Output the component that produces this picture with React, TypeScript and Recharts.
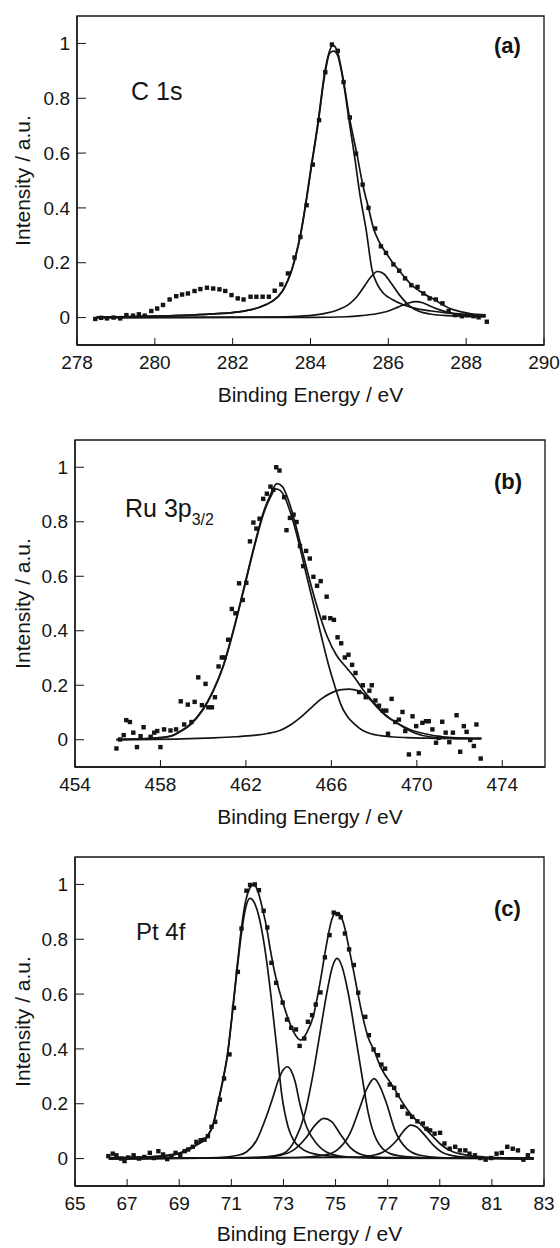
import React from "react";
import { ComposedChart, Line, Scatter, XAxis, YAxis, ReferenceArea } from "recharts";

type Pt = [number, number];

const INK = "#141414";
const FONT = "'Liberation Sans', Arial, Helvetica, sans-serif";

const yTicks = [0, 0.2, 0.4, 0.6, 0.8, 1];

// (a) C 1s
const aTicksX = [278, 280, 282, 284, 286, 288, 290];
const aPoints: Pt[] = [
  [278.47, -0.005], [278.62, -0.001], [278.77, -0.003], [278.94, 0], [279.11, -0.003],
  [279.27, 0.009], [279.44, 0.007], [279.59, 0.012], [279.74, 0.007], [279.91, 0.024],
  [280.06, 0.033], [280.21, 0.046], [280.38, 0.066], [280.55, 0.078], [280.7, 0.084],
  [280.85, 0.088], [281.02, 0.097], [281.17, 0.104], [281.34, 0.109], [281.5, 0.106],
  [281.66, 0.103], [281.81, 0.097], [281.97, 0.082], [282.13, 0.07], [282.28, 0.066],
  [282.46, 0.076], [282.61, 0.076], [282.77, 0.076], [282.93, 0.076], [283.08, 0.098],
  [283.25, 0.121], [283.42, 0.161], [283.59, 0.219], [283.74, 0.294], [283.9, 0.41],
  [284.06, 0.558], [284.22, 0.72], [284.38, 0.895], [284.55, 0.996], [284.7, 0.973],
  [284.85, 0.859], [285.01, 0.73], [285.17, 0.598], [285.34, 0.485], [285.49, 0.4],
  [285.66, 0.325], [285.81, 0.26], [285.94, 0.236], [286.13, 0.194], [286.28, 0.171],
  [286.43, 0.143], [286.59, 0.118], [286.75, 0.112], [286.9, 0.088], [287.06, 0.07],
  [287.22, 0.066], [287.39, 0.052], [287.55, 0.024], [287.72, 0.009], [287.89, 0.005],
  [288.03, 0.009], [288.19, 0.005], [288.32, 0.001], [288.53, -0.015],
];
const aFit: Pt[] = [
  [278.5, 0.002], [279.5, 0.004], [280.5, 0.007], [281.3, 0.012], [282.16, 0.021],
  [282.67, 0.037], [283.0, 0.058], [283.27, 0.095], [283.53, 0.18], [283.75, 0.31],
  [284.03, 0.562], [284.2, 0.72], [284.36, 0.89], [284.48, 0.968], [284.57, 0.993],
  [284.68, 0.975], [284.85, 0.862], [285.0, 0.73], [285.19, 0.598], [285.35, 0.48],
  [285.49, 0.4], [285.62, 0.325], [285.78, 0.272], [285.94, 0.236], [286.1, 0.203],
  [286.28, 0.171], [286.45, 0.142], [286.59, 0.12], [286.75, 0.102], [286.9, 0.088],
  [287.2, 0.064], [287.42, 0.045], [287.6, 0.032], [287.85, 0.022], [288.1, 0.015],
  [288.5, 0.01],
];
const aPeak1: Pt[] = [
  [278.5, 0.002], [279.5, 0.004], [280.5, 0.007], [281.3, 0.012], [282.16, 0.021],
  [282.67, 0.037], [283.0, 0.058], [283.27, 0.094], [283.53, 0.178], [283.75, 0.305],
  [284.03, 0.555], [284.2, 0.712], [284.36, 0.88], [284.5, 0.966], [284.6, 0.972],
  [284.7, 0.955], [284.85, 0.855], [285.0, 0.71], [285.12, 0.6], [285.28, 0.44],
  [285.43, 0.32], [285.58, 0.175], [285.72, 0.12], [285.88, 0.088], [286.1, 0.066],
  [286.4, 0.046], [286.75, 0.032], [287.1, 0.024], [287.5, 0.017], [288.0, 0.012],
  [288.5, 0.009],
];
const aPeak2: Pt[] = [
  [278.5, 0], [282.5, 0.002], [283.5, 0.004], [284.08, 0.009], [284.4, 0.016],
  [284.68, 0.027], [285.0, 0.05], [285.19, 0.076], [285.4, 0.118], [285.55, 0.148],
  [285.72, 0.168], [285.88, 0.16], [286.05, 0.13], [286.3, 0.08], [286.55, 0.042],
  [286.8, 0.022], [287.07, 0.013], [287.5, 0.007], [288.5, 0.003],
];
const aPeak3: Pt[] = [
  [278.5, 0], [284.0, 0.001], [284.93, 0.003], [285.3, 0.007], [285.7, 0.014],
  [286.0, 0.024], [286.26, 0.039], [286.5, 0.052], [286.7, 0.058], [286.9, 0.053],
  [287.07, 0.042], [287.3, 0.029], [287.5, 0.02], [287.93, 0.009], [288.5, 0.003],
];

// (b) Ru 3p3/2
const bTicksX = [454, 458, 462, 466, 470, 474];
const bPoints: Pt[] = [
  [455.94, -0.032], [456.11, 0.001], [456.28, 0.017], [456.4, 0.072], [456.57, 0.065],
  [456.73, 0.026], [456.9, -0.027], [457.07, 0.013], [457.21, 0.046], [457.54, 0.011],
  [457.71, 0.026], [457.85, 0.032], [458.0, -0.027], [458.17, 0.038], [458.47, 0.034],
  [458.73, 0.038], [458.95, 0.141], [459.11, 0.056], [459.28, 0.129], [459.45, 0.065],
  [459.6, 0.139], [459.77, 0.229], [459.94, 0.127], [460.11, 0.205], [460.24, 0.119],
  [460.41, 0.119], [460.55, 0.156], [460.72, 0.269], [460.87, 0.302], [461.0, 0.302],
  [461.17, 0.367], [461.34, 0.48], [461.51, 0.464], [461.68, 0.574], [461.85, 0.513],
  [462.02, 0.576], [462.19, 0.728], [462.35, 0.797], [462.49, 0.775], [462.64, 0.811],
  [462.81, 0.884], [462.98, 0.903], [463.15, 0.929], [463.28, 0.917], [463.42, 1.0],
  [463.57, 0.988], [463.79, 0.89], [463.9, 0.769], [464.06, 0.814], [464.23, 0.826],
  [464.37, 0.799], [464.53, 0.711], [464.68, 0.637], [464.82, 0.693], [464.99, 0.665],
  [465.16, 0.598], [465.33, 0.565], [465.5, 0.582], [465.67, 0.448], [465.78, 0.525],
  [465.95, 0.446], [466.12, 0.44], [466.29, 0.376], [466.46, 0.354], [466.63, 0.302],
  [466.8, 0.312], [466.97, 0.275], [467.13, 0.245], [467.3, 0.175], [467.47, 0.2],
  [467.61, 0.156], [467.78, 0.18], [467.89, 0.2], [468.06, 0.144], [468.23, 0.125],
  [468.4, 0.107], [468.57, 0.107], [468.65, 0.022], [468.82, 0.15], [468.99, 0.065],
  [469.16, 0.074], [469.33, 0.102], [469.46, 0.032], [469.63, -0.054], [469.8, 0.086],
  [469.97, 0.05], [470.09, -0.05], [470.26, 0.062], [470.43, 0.068], [470.56, 0.068],
  [470.73, 0.038], [470.9, -0.011], [471.02, 0.007], [471.19, 0.066], [471.35, 0.026],
  [471.52, -0.009], [471.69, 0.026], [471.86, 0.09], [472.03, -0.044], [472.2, 0.05],
  [472.33, 0.029], [472.5, -0.001], [472.67, -0.023], [472.79, 0.056], [472.99, -0.069],
];
const bFit: Pt[] = [
  [455.94, 0.001], [457.0, 0.003], [458.0, 0.008], [458.5, 0.014], [458.9, 0.03],
  [459.4, 0.057], [459.95, 0.108], [460.45, 0.178], [460.93, 0.27], [461.42, 0.405],
  [461.9, 0.555], [462.4, 0.715], [462.85, 0.842], [463.15, 0.9], [463.45, 0.94],
  [463.7, 0.93], [464.13, 0.845], [464.55, 0.72], [464.97, 0.59], [465.33, 0.489],
  [465.8, 0.38], [466.24, 0.31], [466.7, 0.265], [467.05, 0.232], [467.5, 0.182],
  [468.0, 0.135], [468.52, 0.092], [469.02, 0.063], [469.7, 0.037], [470.37, 0.022],
  [471.22, 0.011], [472.0, 0.007], [473.02, 0.005],
];
const bPeak1: Pt[] = [
  [455.94, 0.001], [457.0, 0.003], [458.0, 0.008], [458.5, 0.013], [458.9, 0.028],
  [459.4, 0.055], [459.95, 0.105], [460.45, 0.175], [460.93, 0.267], [461.42, 0.4],
  [461.9, 0.55], [462.4, 0.71], [462.85, 0.835], [463.15, 0.89], [463.38, 0.921],
  [463.6, 0.915], [463.79, 0.895], [464.1, 0.83], [464.47, 0.725], [464.8, 0.615],
  [465.16, 0.5], [465.5, 0.39], [465.85, 0.28], [466.15, 0.2], [466.44, 0.13],
  [466.75, 0.085], [467.07, 0.058], [467.45, 0.035], [467.85, 0.022], [468.3, 0.015],
  [468.8, 0.011], [469.5, 0.008], [470.5, 0.006], [473.02, 0.004],
];
const bPeak2: Pt[] = [
  [455.94, 0], [459.0, 0.003], [460.5, 0.007], [461.5, 0.011], [462.36, 0.016],
  [463.0, 0.023], [463.62, 0.035], [464.1, 0.055], [464.56, 0.082], [465.0, 0.113],
  [465.5, 0.148], [466.0, 0.172], [466.4, 0.183], [466.85, 0.186], [467.38, 0.175],
  [467.8, 0.148], [468.17, 0.117], [468.6, 0.085], [469.11, 0.06], [469.5, 0.04],
  [469.89, 0.025], [470.67, 0.01], [471.5, 0.006], [473.02, 0.004],
];

// (c) Pt 4f
const cTicksX = [65, 67, 69, 71, 73, 75, 77, 79, 81, 83];
const cPoints: Pt[] = [
  [66.28, 0.009], [66.45, 0.018], [66.59, 0.012], [66.77, 0], [66.9, -0.009],
  [67.04, 0.004], [67.25, 0.012], [67.46, 0], [67.66, 0.006], [67.87, 0.021],
  [68.03, 0.002], [68.2, 0.027], [68.38, 0.015], [68.54, -0.002], [68.7, 0.009],
  [68.86, 0.021], [69.04, 0.012], [69.21, 0.027], [69.34, 0.033], [69.52, 0.043],
  [69.66, 0.061], [69.83, 0.067], [69.97, 0.069], [70.1, 0.082], [70.24, 0.116],
  [70.38, 0.134], [70.56, 0.215], [70.72, 0.292], [70.93, 0.38], [71.1, 0.55],
  [71.25, 0.681], [71.39, 0.839], [71.58, 0.977], [71.72, 0.998], [71.9, 1.0],
  [72.06, 0.979], [72.24, 0.904], [72.38, 0.843], [72.54, 0.714], [72.72, 0.641],
  [72.97, 0.569], [73.14, 0.507], [73.3, 0.477], [73.48, 0.471], [73.62, 0.411],
  [73.8, 0.438], [73.94, 0.499], [74.1, 0.523], [74.24, 0.562], [74.42, 0.606],
  [74.59, 0.734], [74.77, 0.815], [74.93, 0.897], [75.08, 0.892], [75.2, 0.88],
  [75.36, 0.821], [75.52, 0.763], [75.7, 0.706], [75.87, 0.605], [76.14, 0.517],
  [76.28, 0.45], [76.46, 0.398], [76.63, 0.377], [76.76, 0.343], [76.9, 0.328],
  [77.08, 0.27], [77.25, 0.258], [77.38, 0.231], [77.56, 0.189], [77.77, 0.164],
  [77.94, 0.152], [78.14, 0.136], [78.35, 0.128], [78.49, 0.109], [78.63, 0.103],
  [78.8, 0.091], [79.01, 0.094], [79.18, 0.055], [79.38, 0.036], [79.59, 0.043],
  [79.77, 0.03], [79.98, 0.03], [80.14, 0.018], [80.35, 0.012], [80.56, 0.002],
  [80.76, -0.004], [80.97, 0.002], [81.18, 0.018], [81.38, 0.021], [81.59, 0.043],
  [81.8, 0.036], [82.0, 0.03], [82.21, -0.004], [82.38, 0.012], [82.56, 0.027],
];
const cFit: Pt[] = [
  [66.3, 0.003], [67.0, 0.004], [68.0, 0.007], [68.5, 0.012], [69.0, 0.02],
  [69.3, 0.034], [69.6, 0.048], [69.92, 0.066], [70.1, 0.085], [70.3, 0.125],
  [70.5, 0.21], [70.7, 0.3], [70.85, 0.38], [71.0, 0.5], [71.2, 0.68],
  [71.4, 0.85], [71.55, 0.94], [71.7, 0.985], [71.85, 1.0], [72.0, 0.98],
  [72.2, 0.91], [72.35, 0.845], [72.5, 0.76], [72.65, 0.685], [72.8, 0.626],
  [73.0, 0.562], [73.2, 0.505], [73.4, 0.46], [73.66, 0.432], [73.9, 0.46],
  [74.14, 0.517], [74.4, 0.639], [74.66, 0.785], [74.85, 0.87], [75.0, 0.895],
  [75.15, 0.892], [75.3, 0.86], [75.5, 0.775], [75.66, 0.7], [75.81, 0.625],
  [76.0, 0.535], [76.26, 0.44], [76.5, 0.39], [76.71, 0.338], [76.9, 0.305],
  [77.1, 0.278], [77.3, 0.248], [77.5, 0.215], [77.73, 0.182], [77.95, 0.155],
  [78.24, 0.128], [78.5, 0.103], [78.75, 0.079], [79.0, 0.055], [79.27, 0.036],
  [79.5, 0.025], [79.78, 0.017], [80.1, 0.011], [80.6, 0.006], [81.5, 0.003],
  [82.6, 0.002],
];
const cPeak1: Pt[] = [
  [66.3, 0.003], [68.0, 0.006], [69.0, 0.018], [69.6, 0.045], [70.1, 0.084],
  [70.3, 0.122], [70.5, 0.205], [70.7, 0.295], [70.85, 0.375], [71.0, 0.495],
  [71.2, 0.67], [71.4, 0.83], [71.55, 0.915], [71.72, 0.949], [71.9, 0.93],
  [72.09, 0.87], [72.35, 0.724], [72.54, 0.578], [72.74, 0.407], [72.93, 0.237],
  [73.18, 0.115], [73.4, 0.065], [73.63, 0.042], [74.14, 0.018], [74.91, 0.008],
  [76.0, 0.004], [82.6, 0.001],
];
const cPeak2: Pt[] = [
  [66.3, 0], [70.5, 0.004], [71.26, 0.012], [71.58, 0.024], [71.97, 0.067],
  [72.35, 0.155], [72.6, 0.225], [72.8, 0.285], [73.0, 0.325], [73.15, 0.335],
  [73.3, 0.32], [73.45, 0.28], [73.63, 0.2], [73.89, 0.115], [74.27, 0.055],
  [74.78, 0.018], [75.43, 0.006], [76.5, 0.002], [82.6, 0],
];
const cPeak3: Pt[] = [
  [66.3, 0], [72.0, 0.004], [72.86, 0.012], [73.37, 0.03], [73.89, 0.079],
  [74.2, 0.12], [74.55, 0.147], [74.85, 0.135], [75.17, 0.091], [75.55, 0.042],
  [76.06, 0.013], [76.8, 0.004], [82.6, 0],
];
const cPeak4: Pt[] = [
  [66.3, 0], [71.5, 0.003], [72.5, 0.008], [72.99, 0.018], [73.44, 0.067],
  [73.82, 0.164], [74.14, 0.31], [74.4, 0.456], [74.66, 0.602], [74.88, 0.7],
  [75.06, 0.73], [75.25, 0.7], [75.49, 0.602], [75.75, 0.456], [76.0, 0.31],
  [76.26, 0.164], [76.58, 0.067], [77.09, 0.018], [77.8, 0.006], [79.0, 0.002],
  [82.6, 0],
];
const cPeak5: Pt[] = [
  [66.3, 0], [73.5, 0.004], [74.53, 0.012], [75.04, 0.03], [75.55, 0.091],
  [75.94, 0.188], [76.2, 0.255], [76.48, 0.292], [76.72, 0.26], [76.96, 0.2],
  [77.28, 0.103], [77.73, 0.036], [78.24, 0.012], [79.0, 0.004], [82.6, 0],
];
const cPeak6: Pt[] = [
  [66.3, 0], [75.5, 0.004], [76.32, 0.01], [76.83, 0.024], [77.35, 0.067],
  [77.65, 0.105], [77.89, 0.122], [78.12, 0.115], [78.37, 0.091], [78.75, 0.049],
  [79.14, 0.02], [79.65, 0.008], [80.5, 0.003], [82.6, 0],
];

const toRows = (pts: Pt[]) => pts.map(([x, y]) => ({ x, y }));

function Square(props: any) {
  const { cx, cy } = props;
  if (cx == null || cy == null) return null;
  return <rect x={cx - 2.2} y={cy - 2.2} width={4.4} height={4.4} fill={INK} />;
}

interface PanelProps {
  top: number;
  height: number;
  left: number;
  right: number;
  plotH: number;
  xDomain: [number, number];
  xTicks: number[];
  points: Pt[];
  curves: Pt[][];
  titleY: number;
  children?: React.ReactNode;
}

function Panel({ top, height, left, right, plotH, xDomain, xTicks, points, curves, titleY, children }: PanelProps) {
  const plotTop = 16;
  const xAxisH = height - plotTop - plotH;
  const cx = (left + right) / 2;
  const cy = plotTop + plotH / 2;
  return (
    <div style={{ position: "absolute", top, left: 0, width: 560, height }}>
      <ComposedChart width={560} height={height} margin={{ top: plotTop, right: 560 - right, bottom: 0, left: 0 }}>
        <XAxis
          type="number"
          dataKey="x"
          domain={xDomain}
          ticks={xTicks}
          interval={0}
          allowDataOverflow
          height={xAxisH}
          tickSize={-7}
          tickMargin={18}
          tick={{ fontSize: 19, fill: INK, fontFamily: FONT }}
          axisLine={{ stroke: INK, strokeWidth: 1.3 }}
          tickLine={{ stroke: INK, strokeWidth: 1 }}
        />
        <YAxis
          type="number"
          domain={[-0.1, 1.1]}
          ticks={yTicks}
          interval={0}
          allowDataOverflow
          width={left}
          tickSize={-9}
          tickMargin={16}
          tick={{ fontSize: 19, fill: INK, fontFamily: FONT }}
          axisLine={{ stroke: INK, strokeWidth: 1.3 }}
          tickLine={{ stroke: INK, strokeWidth: 1 }}
        />
        <ReferenceArea x1={xDomain[0]} x2={xDomain[1]} y1={-0.1} y2={1.1} fill="none" fillOpacity={0} stroke={INK} strokeWidth={1.3} />
        {curves.map((c, i) => (
          <Line
            key={i}
            data={toRows(c)}
            dataKey="y"
            type="monotone"
            dot={false}
            stroke={INK}
            strokeWidth={1.7}
            isAnimationActive={false}
          />
        ))}
        <Scatter data={toRows(points)} dataKey="y" shape={<Square />} isAnimationActive={false} />
        <text x={cx} y={titleY} textAnchor="middle" fontSize={21} fill={INK} fontFamily={FONT}>
          Binding Energy / eV
        </text>
        <text
          x={22}
          y={cy}
          transform={`rotate(-90, 22, ${cy})`}
          textAnchor="middle"
          dominantBaseline="central"
          fontSize={21}
          fill={INK}
          fontFamily={FONT}
        >
          Intensity / a.u.
        </text>
        {children}
      </ComposedChart>
    </div>
  );
}

const label = { fill: INK, fontFamily: FONT };
const tag = { fontSize: 22, fill: INK, fontFamily: FONT, fontWeight: 700 };

export default function App() {
  return (
    <div style={{ position: "absolute", top: 0, left: 0, width: 560, height: 1248, background: "#fff", overflow: "hidden" }}>
      <Panel
        top={0}
        height={416}
        left={77}
        right={544}
        plotH={329}
        xDomain={[278, 290]}
        xTicks={aTicksX}
        points={aPoints}
        curves={[aFit, aPeak1, aPeak2, aPeak3]}
        titleY={402}
      >
        <text x={131} y={100} fontSize={25} {...label}>C 1s</text>
        <text x={494} y={53} {...tag}>(a)</text>
      </Panel>
      <Panel
        top={424}
        height={416}
        left={75}
        right={545}
        plotH={327}
        xDomain={[454, 476]}
        xTicks={bTicksX}
        points={bPoints}
        curves={[bFit, bPeak1, bPeak2]}
        titleY={400}
      >
        <text x={125} y={93} fontSize={25} {...label}>
          Ru 3p
          <tspan dy={8} fontSize={16}>3/2</tspan>
        </text>
        <text x={494} y={65} {...tag}>(b)</text>
      </Panel>
      <Panel
        top={841}
        height={407}
        left={75}
        right={544}
        plotH={329}
        xDomain={[65, 83]}
        xTicks={cTicksX}
        points={cPoints}
        curves={[cFit, cPeak1, cPeak2, cPeak3, cPeak4, cPeak5, cPeak6]}
        titleY={400}
      >
        <text x={136} y={99} fontSize={24} {...label}>Pt 4f</text>
        <text x={494} y={75} {...tag}>(c)</text>
      </Panel>
    </div>
  );
}
